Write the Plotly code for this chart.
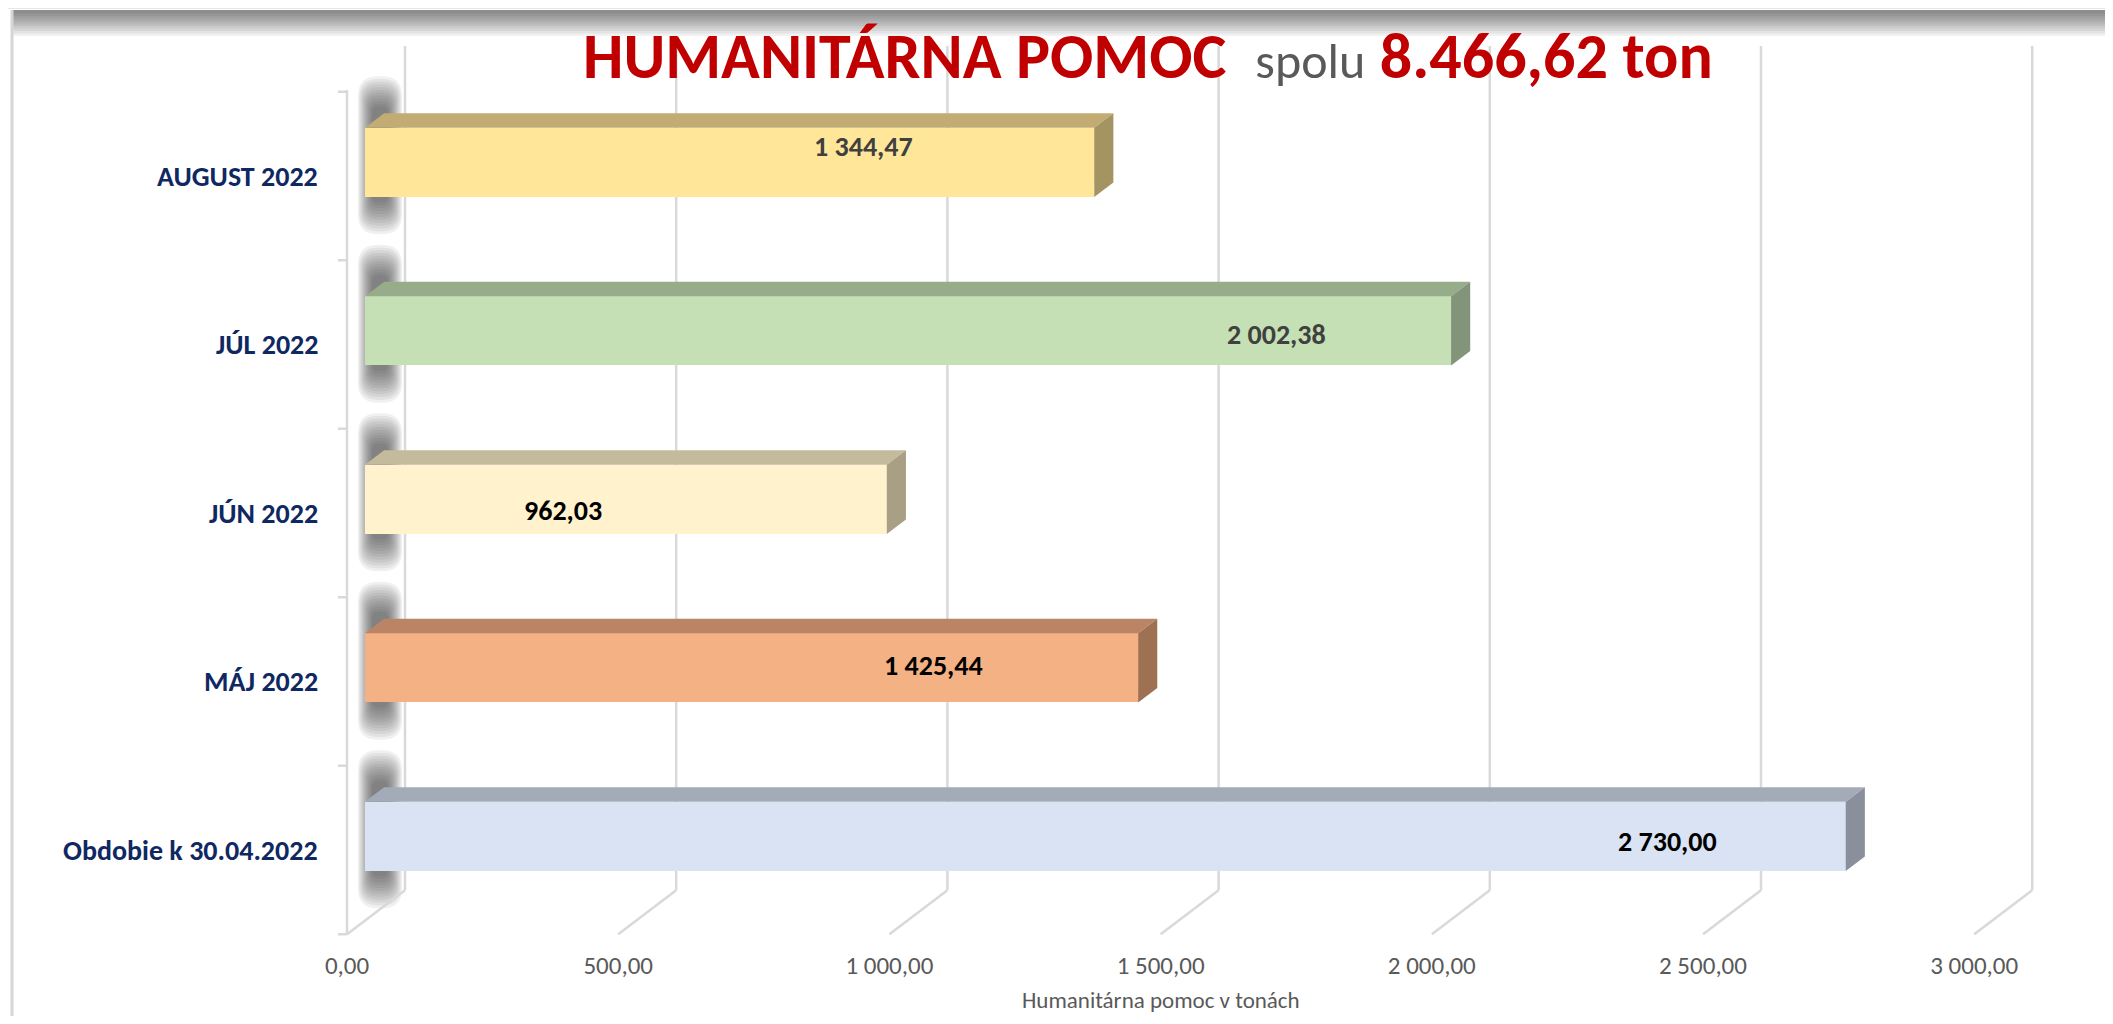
import plotly.graph_objects as go

# ---------------- data ----------------
categories = ["Obdobie k 30.04.2022", "MÁJ 2022", "JÚN 2022", "JÚL 2022", "AUGUST 2022"]
values = [2730.00, 1425.44, 962.03, 2002.38, 1344.47]
value_labels = ["2 730,00", "1 425,44", "962,03", "2 002,38", "1 344,47"]
tick_vals = [0, 500, 1000, 1500, 2000, 2500, 3000]
tick_text = ["0,00", "500,00", "1 000,00", "1 500,00", "2 000,00", "2 500,00", "3 000,00"]
axis_title = "Humanitárna pomoc v tonách"

# ---------------- styles ----------------
front_colors = ["#DAE3F3", "#F4B183", "#FFF2CC", "#C5E0B4", "#FFE699"]
top_colors = ["#A4ABB8", "#BB8565", "#C4BA9C", "#96AC8A", "#C2AC73"]
side_colors = ["#8A909B", "#9E7152", "#A89F85", "#82957A", "#A39461"]
label_colors = ["#000000", "#000000", "#000000", "#404040", "#404040"]
label_pos = [2402, 1049, 365, 1680, 920]   # label centre along the bar (axis units)
label_dy = [5, -2, 11, 4, -16]             # px, positive = lower

FONT = "Carlito, Lato, sans-serif"
OFF = 8            # page body margin
W, H = 2113 - 2 * OFF, 1024 - 2 * OFF
L, R, T, B = 290, 25, 30, 68
PW, PH = W - L - R, H - T - B
X0_PX = 347.0 - OFF   # pixel of value 0 on the front floor edge
PXU = 0.5424          # px per unit
Y0_PX = 850.0 - OFF   # pixel of first category centre on front edge
PXC = 168.5           # px per category
DDX = 58 / PXU        # full depth offset in x units
DDY = 44 / PXC        # full depth offset in y units
D1, D2 = 0.31, 0.64
BAR_W = 0.41
GRID = "#D9D9D9"

xr = [(L - X0_PX) / PXU, (W - R - X0_PX) / PXU]
yr = [(Y0_PX - (H - B)) / PXC, (Y0_PX - T) / PXC]


def ppx(px):
    return (px - OFF - L) / PW


def ppy(py):
    return (H - B - (py - OFF)) / PH


n = len(categories)
ylo, yhi = -0.5, n - 0.5

shapes = []
# frame decorations
shapes.append(dict(type="line", xref="paper", yref="paper", x0=ppx(OFF), x1=ppx(2113), y0=ppy(8), y1=ppy(8),
                   line=dict(color="#E6E6E6", width=2), layer="below"))
for i in range(10):
    h = 26 - i * 2.5
    shapes.append(dict(type="rect", xref="paper", yref="paper", x0=ppx(12), x1=ppx(2113), y0=ppy(10), y1=ppy(10 + h),
                       fillcolor="rgba(0,0,0,0.055)", line=dict(width=0), layer="below"))
shapes.append(dict(type="line", xref="paper", yref="paper", x0=ppx(12), x1=ppx(12), y0=ppy(10), y1=ppy(1024),
                   line=dict(color="#D6D6D6", width=3), layer="below"))


def rounded_rect(x0, x1, y0, y1, rx, ry):
    return ("M %f,%f L %f,%f Q %f,%f %f,%f L %f,%f Q %f,%f %f,%f L %f,%f Q %f,%f %f,%f "
            "L %f,%f Q %f,%f %f,%f Z") % (
        x0 + rx, y0, x1 - rx, y0, x1, y0, x1, y0 + ry, x1, y1 - ry, x1, y1, x1 - rx, y1,
        x0 + rx, y1, x0, y1, x0, y1 - ry, x0, y0 + ry, x0, y0, x0 + rx, y0)


# soft shadows on the left wall
for k in range(n):
    yc = k + D1 * DDY
    cx = 33 / PXU
    for i in range(12):
        t = i / 11
        hw = 22 - 14 * t
        up = 86 - 30 * t
        dn = 72 - 32 * t
        shapes.append(dict(type="path", xref="x", yref="y",
                           path=rounded_rect(cx - hw / PXU, cx + hw / PXU, yc - dn / PXC, yc + up / PXC,
                                             hw * 0.9 / PXU, hw * 0.9 / PXC),
                           fillcolor="rgba(50,50,50,0.075)", line=dict(width=0), layer="below"))

# back wall gridlines + floor diagonals
for v in tick_vals:
    shapes.append(dict(type="line", xref="x", yref="y", x0=v + DDX, x1=v + DDX,
                       y0=ylo + DDY, y1=yhi + DDY + 0.01, line=dict(color=GRID, width=2.5), layer="below"))
    shapes.append(dict(type="line", xref="x", yref="y", x0=v + DDX, x1=v,
                       y0=ylo + DDY, y1=ylo, line=dict(color=GRID, width=2.5), layer="below"))
# left wall front edge and ticks
shapes.append(dict(type="line", xref="x", yref="y", x0=0, x1=0, y0=ylo, y1=yhi + 0.01,
                   line=dict(color=GRID, width=2.5), layer="below"))
for k in range(n + 1):
    b = ylo + k
    shapes.append(dict(type="line", xref="x", yref="y", x0=0, x1=-9 / PXU, y0=b, y1=b,
                       line=dict(color=GRID, width=2.5), layer="below"))

fig = go.Figure()

b1, b2 = D1 * DDX, D2 * DDX
for k, v in enumerate(values):
    yf = k + D1 * DDY
    yb = k + D2 * DDY
    hb = BAR_W / 2
    # top face
    fig.add_trace(go.Scatter(
        x=[b1, b1 + v, b2 + v, b2, b1], y=[yf + hb, yf + hb, yb + hb, yb + hb, yf + hb],
        fill="toself", fillcolor=top_colors[k], mode="lines", line=dict(width=0, color=top_colors[k]),
        hoverinfo="skip", showlegend=False))
    # side face
    fig.add_trace(go.Scatter(
        x=[b1 + v, b1 + v, b2 + v, b2 + v, b1 + v], y=[yf + hb, yf - hb, yb - hb, yb + hb, yf + hb],
        fill="toself", fillcolor=side_colors[k], mode="lines", line=dict(width=0, color=side_colors[k]),
        hoverinfo="skip", showlegend=False))

# front faces
fig.add_trace(go.Bar(
    orientation="h",
    x=values,
    y=[k + D1 * DDY for k in range(n)],
    base=[b1] * n,
    width=BAR_W,
    marker=dict(color=front_colors, line=dict(width=0)),
    hoverinfo="skip", showlegend=False))

annotations = []
for k in range(n):
    annotations.append(dict(
        x=b1 + label_pos[k], y=k + D1 * DDY, xref="x", yref="y", text="<b>%s</b>" % value_labels[k],
        showarrow=False, yshift=-label_dy[k], font=dict(family=FONT, size=28, color=label_colors[k])))
    annotations.append(dict(
        x=0, y=k, xref="x", yref="y", text="<b>%s</b>" % categories[k], xanchor="right", xshift=-27,
        yshift=0, showarrow=False, font=dict(family=FONT, size=28, color="#0F2862")))

annotations.append(dict(
    x=(tick_vals[0] + tick_vals[-1]) / 2, y=ppy(1000), xref="x", yref="paper", text=axis_title,
    showarrow=False, yanchor="middle", font=dict(family=FONT, size=23, color="#595959")))

annotations.append(dict(
    x=ppx(1148), y=ppy(56), xref="paper", yref="paper", yanchor="middle", showarrow=False,
    text="<b>HUMANITÁRNA POMOC</b>  <span style='font-size:50px;color:#595959'>spolu</span> <b>8.466,62 ton</b>",
    font=dict(family=FONT, size=64, color="#C00000")))

fig.update_layout(
    width=W, height=H, autosize=False,
    margin=dict(l=L, r=R, t=T, b=B, pad=0),
    paper_bgcolor="white", plot_bgcolor="rgba(0,0,0,0)",
    xaxis=dict(range=xr, tickvals=tick_vals, ticktext=tick_text, showgrid=False, zeroline=False,
               showline=False, ticks="", tickfont=dict(family=FONT, size=25, color="#595959"), fixedrange=True),
    yaxis=dict(range=yr, showticklabels=False, showgrid=False, zeroline=False, showline=False, fixedrange=True),
    shapes=shapes, annotations=annotations, bargap=0,
)

fig.write_html("out.html")
